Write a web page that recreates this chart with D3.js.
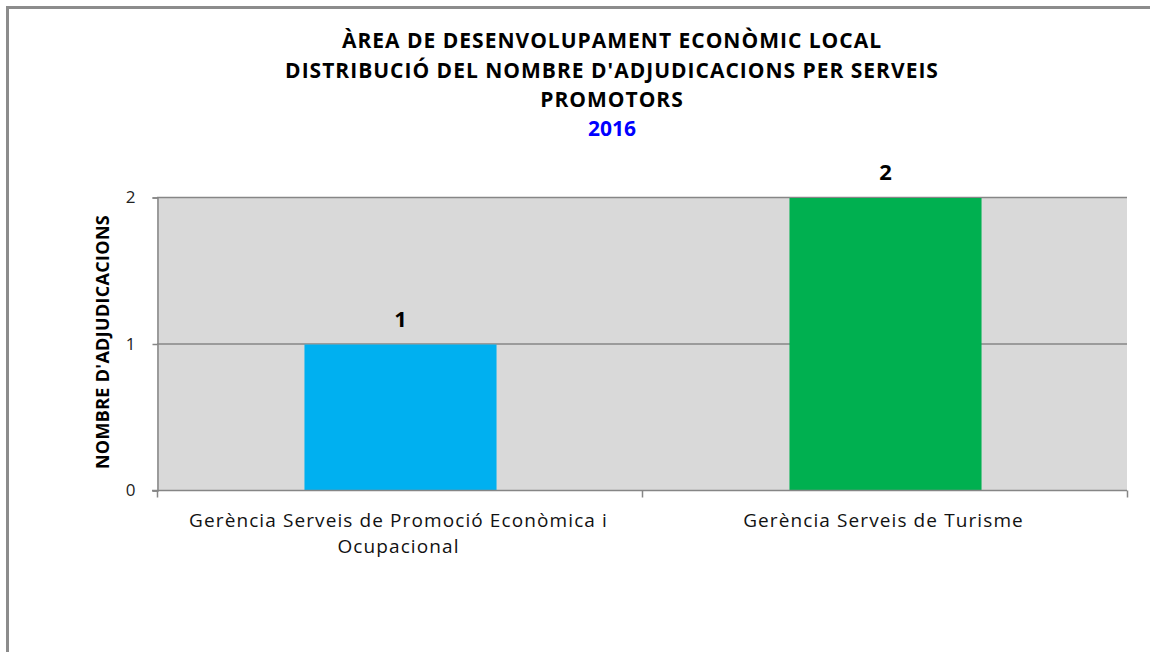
<!DOCTYPE html>
<html>
<head>
<meta charset="utf-8">
<script src="https://cdn.jsdelivr.net/npm/d3@7"></script>
<style>
body{margin:0;background:#fff;}
</style>
</head>
<body>
<div id="chart"></div>
<script>
const categories = [
    ['Gerència Serveis de Promoció Econòmica i', 'Ocupacional'],
    ['Gerència Serveis de Turisme']
];
const values = [1, 2];
const barColors = ['#00B0F0', '#00B050'];
const titleLines = ['ÀREA DE DESENVOLUPAMENT ECONÒMIC LOCAL', "DISTRIBUCIÓ DEL NOMBRE D'ADJUDICACIONS PER SERVEIS", 'PROMOTORS'];
const yearLabel = '2016';
const yTicks = [0, 1, 2];

const width = 1150, height = 652;
const plotL = 157, plotR = 1127, plotT = 197, plotB = 490;

const svg = d3.select('#chart')
    .append('svg')
    .attr('width', width)
    .attr('height', height);

// outer frame (only top/left visible in the crop)
svg.append('path')
    .attr('d', 'M7.5,' + height + ' V7.5 H' + width)
    .attr('fill', 'none')
    .attr('stroke', '#8c8c8c')
    .attr('stroke-width', 3);

// titles
const tFont = '"Open Sans", Lato, sans-serif';
titleLines.forEach((t, i) => {
    svg.append('text')
        .attr('x', 612)
        .attr('y', 48 + i * 29.5)
        .attr('text-anchor', 'middle')
        .style('font-family', tFont)
        .style('font-weight', 'bold')
        .style('font-size', '21px')
        .style('letter-spacing', '1px')
        .style('fill', '#000')
        .text(t);
});
svg.append('text')
    .attr('x', 612)
    .attr('y', 136)
    .attr('text-anchor', 'middle')
    .style('font-family', tFont)
    .style('font-weight', 'bold')
    .style('font-size', '21px')
    .style('fill', '#0000FF')
    .text(yearLabel);

let scaleX = d3.scaleBand().domain(d3.range(values.length)).range([plotL, plotR]);
let scaleY = d3.scaleLinear().domain([0, 2]).range([plotB, plotT]);

// plot background
svg.append('rect')
    .attr('x', plotL).attr('y', plotT)
    .attr('width', plotR - plotL).attr('height', plotB - plotT)
    .attr('fill', '#D9D9D9');

// gridlines
svg.selectAll('.grid')
    .data(yTicks.filter(d => d > 0))
    .enter()
    .append('line')
    .attr('x1', plotL).attr('x2', plotR)
    .attr('y1', d => scaleY(d) + 0.5).attr('y2', d => scaleY(d) + 0.5)
    .attr('stroke', '#868686')
    .attr('stroke-width', 1.5);

// bars
const barW = scaleX.bandwidth() * 0.396;
svg.selectAll('.bar')
    .data(values)
    .enter()
    .append('rect')
    .attr('x', (d, i) => scaleX(i) + scaleX.bandwidth() / 2 - barW / 2 + 1)
    .attr('y', d => scaleY(d) + 1)
    .attr('width', barW)
    .attr('height', d => plotB - scaleY(d) - 1)
    .attr('fill', (d, i) => barColors[i]);

// value labels
svg.selectAll('.val')
    .data(values)
    .enter()
    .append('text')
    .attr('x', (d, i) => scaleX(i) + scaleX.bandwidth() / 2 + 1)
    .attr('y', d => scaleY(d) - 17)
    .attr('text-anchor', 'middle')
    .style('font-family', tFont)
    .style('font-weight', 'bold')
    .style('font-size', '22px')
    .style('fill', '#000')
    .text(d => d);

// y axis
let yAxis = d3.axisLeft(scaleY).tickValues(yTicks).tickSize(5).tickPadding(17).tickFormat(d3.format('d'));
const yg = svg.append('g')
    .attr('transform', 'translate(' + (plotL + 0.5) + ',0.5)')
    .call(yAxis);
yg.selectAll('path, line').attr('stroke', '#868686').attr('stroke-width', 1.5);
yg.selectAll('text')
    .style('font-family', '"Open Sans", sans-serif')
    .style('font-size', '17px')
    .style('fill', '#222');

// x axis
const xg = svg.append('g')
    .attr('transform', 'translate(0,' + (plotB + 0.5) + ')');
xg.append('line')
    .attr('x1', plotL - 5).attr('x2', plotR)
    .attr('stroke', '#868686').attr('stroke-width', 1.5);
xg.selectAll('.tick')
    .data(d3.range(values.length + 1))
    .enter()
    .append('line')
    .attr('x1', i => (i < values.length ? scaleX(i) : plotR) + 0.5)
    .attr('x2', i => (i < values.length ? scaleX(i) : plotR) + 0.5)
    .attr('y1', 0).attr('y2', 7)
    .attr('stroke', '#868686').attr('stroke-width', 1.5);

// category labels
categories.forEach((lines, i) => {
    lines.forEach((t, j) => {
        svg.append('text')
            .attr('x', scaleX(i) + scaleX.bandwidth() / 2 - 1)
            .attr('y', 527 + j * 26)
            .attr('text-anchor', 'middle')
            .style('font-family', '"Open Sans", sans-serif')
            .style('font-size', '19px')
            .style('letter-spacing', '1.1px')
            .style('fill', '#111')
            .text(t);
    });
});

// y axis title
svg.append('text')
    .attr('transform', 'translate(109,342) rotate(-90)')
    .attr('text-anchor', 'middle')
    .style('font-family', tFont)
    .style('font-weight', 'bold')
    .style('font-size', '18px')
    .style('letter-spacing', '0.3px')
    .style('fill', '#000')
    .text("NOMBRE D'ADJUDICACIONS");
</script>
</body>
</html>
